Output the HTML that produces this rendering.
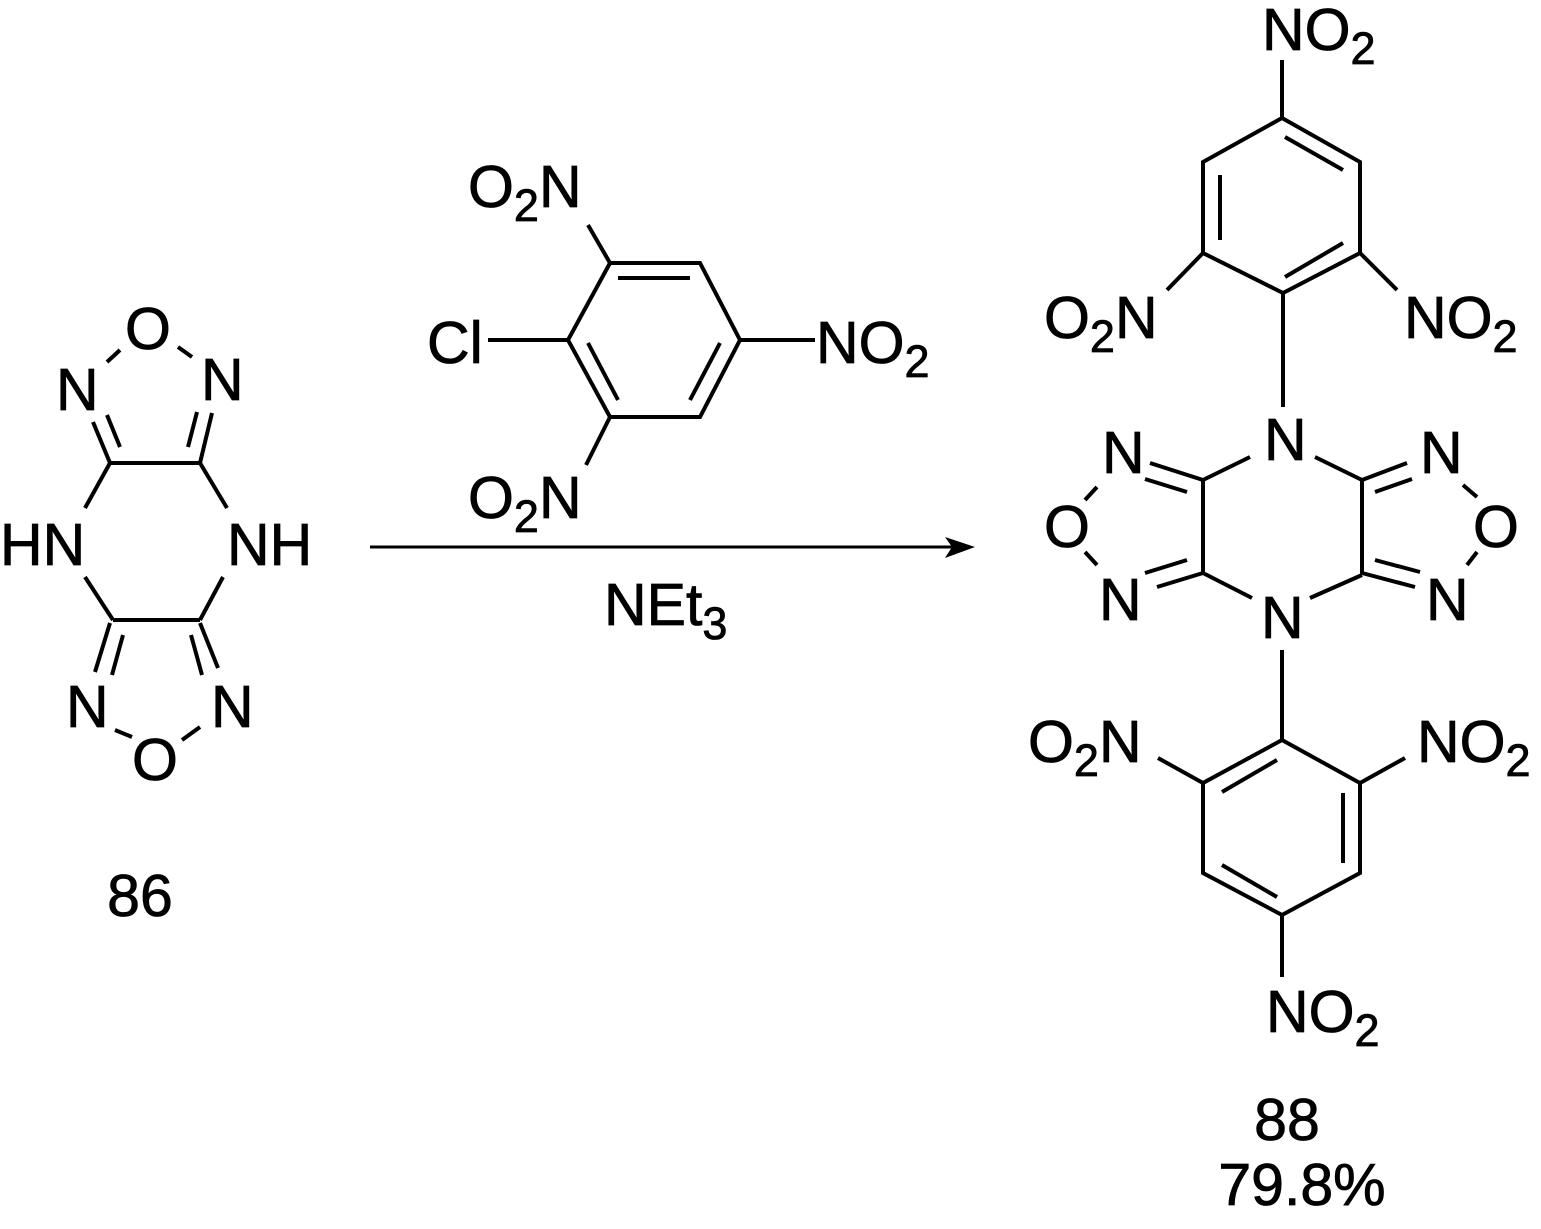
<!DOCTYPE html>
<html><head><meta charset="utf-8"><style>
html,body{margin:0;padding:0;background:#fff}
svg{display:block}
text{font-family:"Liberation Sans",Arial,sans-serif;font-size:59px;fill:#000;stroke:#000;stroke-width:0.8px}
tspan.s{font-size:45px}
</style></head><body>
<svg width="1541" height="1229" viewBox="0 0 1541 1229" xmlns="http://www.w3.org/2000/svg">
<g stroke="#000" stroke-width="4" fill="none" stroke-linecap="butt">
<line x1="107" y1="362" x2="120" y2="350"/>
<line x1="178" y1="347" x2="192" y2="357"/>
<line x1="93" y1="422" x2="110" y2="463"/>
<line x1="107" y1="415" x2="120" y2="447"/>
<line x1="212" y1="413" x2="200" y2="463"/>
<line x1="197" y1="412" x2="188" y2="447"/>
<line x1="110" y1="463" x2="200" y2="463"/>
<line x1="110" y1="463" x2="85" y2="508"/>
<line x1="200" y1="463" x2="227" y2="508"/>
<line x1="85" y1="577" x2="113" y2="620"/>
<line x1="223" y1="577" x2="200" y2="620"/>
<line x1="113" y1="620" x2="200" y2="620"/>
<line x1="110" y1="623" x2="95" y2="672"/>
<line x1="123" y1="635" x2="112" y2="675"/>
<line x1="200" y1="623" x2="218" y2="668"/>
<line x1="191" y1="635" x2="202" y2="675"/>
<line x1="115" y1="730" x2="132" y2="737"/>
<line x1="182" y1="740" x2="200" y2="727"/>
<polygon points="610,263 700,263 740,340 700,417 610,417 568,340"/>
<line x1="618" y1="278" x2="690" y2="278"/>
<line x1="588" y1="343" x2="618" y2="400"/>
<line x1="720" y1="343" x2="690" y2="400"/>
<line x1="568" y1="340" x2="488" y2="340"/>
<line x1="740" y1="340" x2="815" y2="340"/>
<line x1="610" y1="263" x2="588" y2="225"/>
<line x1="610" y1="417" x2="586" y2="465"/>
<line x1="370" y1="547" x2="955" y2="547" stroke-width="3"/>
<polygon points="1282,118 1360,162 1360,253 1283,293 1203,253 1203,162"/>
<line x1="1220" y1="175" x2="1220" y2="240"/>
<line x1="1285" y1="137" x2="1343" y2="170"/>
<line x1="1285" y1="277" x2="1343" y2="243"/>
<line x1="1282" y1="118" x2="1282" y2="60"/>
<line x1="1203" y1="253" x2="1167" y2="290"/>
<line x1="1360" y1="253" x2="1397" y2="290"/>
<line x1="1283" y1="293" x2="1283" y2="407"/>
<line x1="1203" y1="480" x2="1203" y2="573"/>
<line x1="1362" y1="480" x2="1362" y2="575"/>
<line x1="1203" y1="480" x2="1250" y2="457"/>
<line x1="1315" y1="457" x2="1362" y2="480"/>
<line x1="1203" y1="573" x2="1252" y2="598"/>
<line x1="1362" y1="575" x2="1310" y2="598"/>
<line x1="1203" y1="480" x2="1150" y2="463"/>
<line x1="1187" y1="492" x2="1145" y2="479"/>
<line x1="1203" y1="573" x2="1157" y2="587"/>
<line x1="1187" y1="560" x2="1145" y2="573"/>
<line x1="1362" y1="480" x2="1407" y2="463"/>
<line x1="1375" y1="492" x2="1412" y2="479"/>
<line x1="1362" y1="573" x2="1415" y2="587"/>
<line x1="1375" y1="560" x2="1420" y2="572"/>
<line x1="1097" y1="487" x2="1085" y2="500"/>
<line x1="1085" y1="552" x2="1097" y2="565"/>
<line x1="1463" y1="485" x2="1477" y2="497"/>
<line x1="1477" y1="552" x2="1467" y2="565"/>
<line x1="1282" y1="650" x2="1282" y2="740"/>
<polygon points="1282,740 1360,783 1360,873 1282,915 1203,873 1203,783"/>
<line x1="1222" y1="792" x2="1277" y2="760"/>
<line x1="1343" y1="793" x2="1343" y2="863"/>
<line x1="1222" y1="865" x2="1277" y2="897"/>
<line x1="1203" y1="783" x2="1158" y2="758"/>
<line x1="1360" y1="783" x2="1405" y2="758"/>
<line x1="1282" y1="915" x2="1282" y2="977"/>
</g>
<polygon points="975,547 945,537 952,547 945,558" fill="#000"/>
<text x="148" y="349" text-anchor="middle">O</text>
<text x="56" y="410">N</text>
<text x="201" y="400">N</text>
<text x="0" y="565">HN</text>
<text x="227" y="565">NH</text>
<text x="66" y="727">N</text>
<text x="211" y="727">N</text>
<text x="155" y="780" text-anchor="middle">O</text>
<text x="140" y="916" text-anchor="middle">86</text>
<text x="468" y="207">O<tspan class="s" dy="14">2</tspan><tspan dy="-14">N</tspan></text>
<text x="468" y="518">O<tspan class="s" dy="14">2</tspan><tspan dy="-14">N</tspan></text>
<text x="427" y="363">Cl</text>
<text x="816" y="363">NO<tspan class="s" dy="14">2</tspan></text>
<text x="604" y="625">NEt<tspan class="s" dy="14">3</tspan></text>
<text x="1262" y="50">NO<tspan class="s" dy="14">2</tspan></text>
<text x="1044" y="338">O<tspan class="s" dy="14">2</tspan><tspan dy="-14">N</tspan></text>
<text x="1404" y="338">NO<tspan class="s" dy="14">2</tspan></text>
<text x="1264" y="460">N</text>
<text x="1261" y="638">N</text>
<text x="1102" y="473">N</text>
<text x="1044" y="547">O</text>
<text x="1099" y="620">N</text>
<text x="1420" y="473">N</text>
<text x="1473" y="547">O</text>
<text x="1426" y="620">N</text>
<text x="1028" y="762">O<tspan class="s" dy="14">2</tspan><tspan dy="-14">N</tspan></text>
<text x="1417" y="762">NO<tspan class="s" dy="14">2</tspan></text>
<text x="1266" y="1032">NO<tspan class="s" dy="14">2</tspan></text>
<text x="1287" y="1140" text-anchor="middle">88</text>
<text x="1302" y="1205" text-anchor="middle">79.8%</text>
</svg>
</body></html>
